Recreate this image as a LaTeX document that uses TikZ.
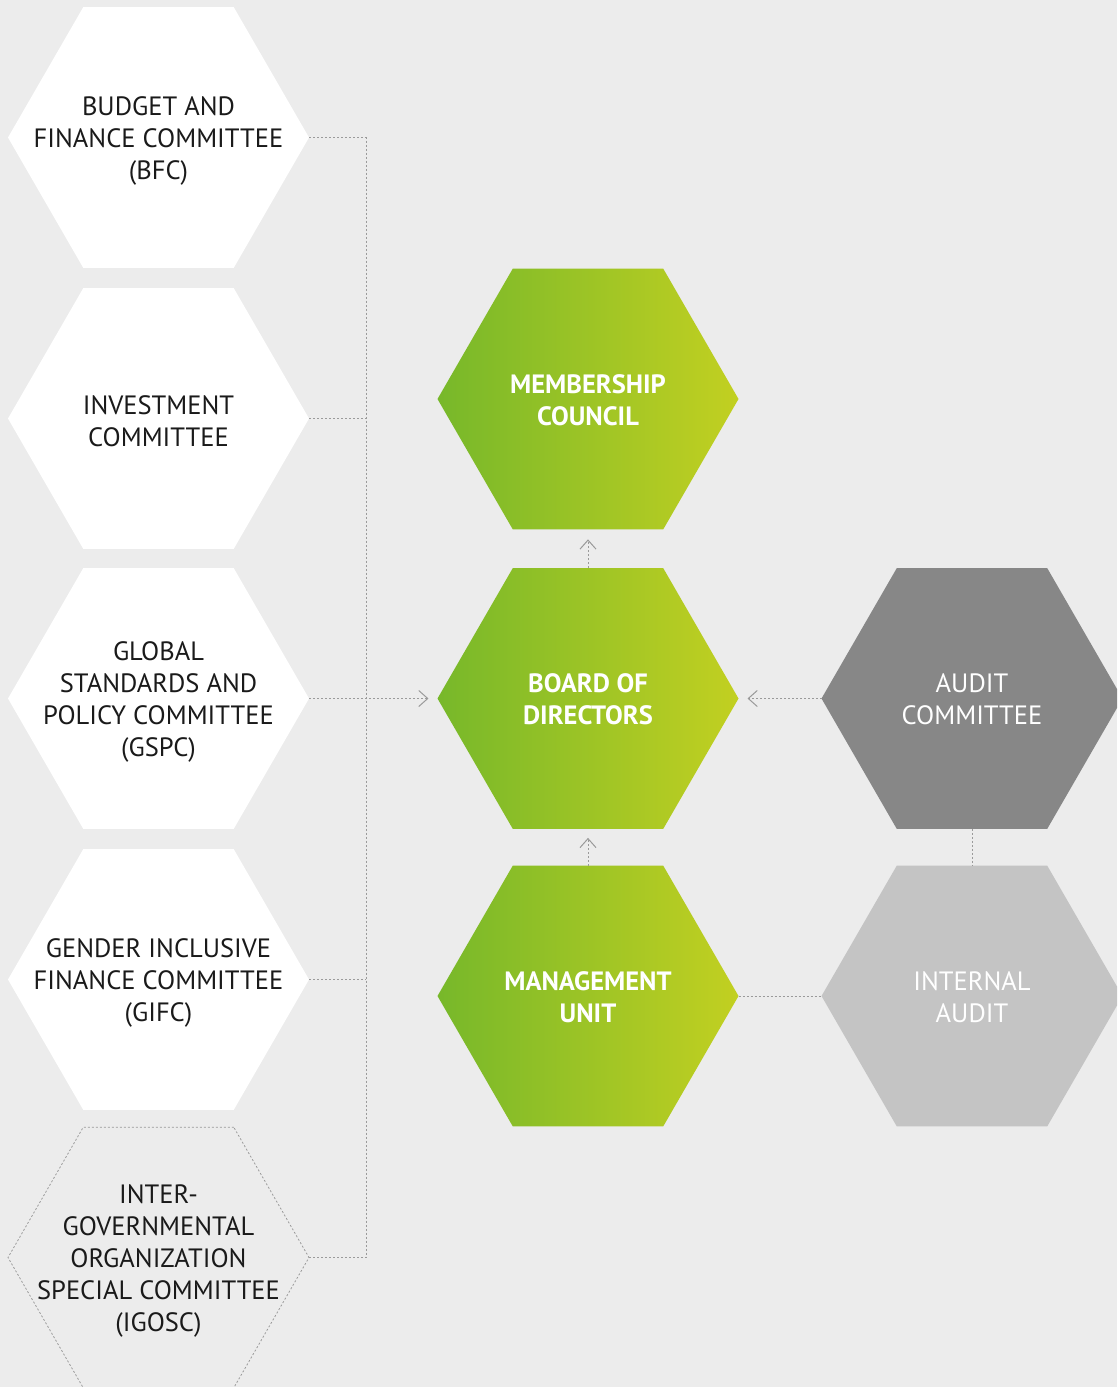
\documentclass[tikz,border=0pt]{standalone}
\usepackage{fontspec}
\setmainfont{PT Sans}
\usetikzlibrary{shapes.geometric,arrows.meta}
\definecolor{bg}{HTML}{ECECEC}
\definecolor{greenL}{HTML}{77B82A}
\definecolor{greenR}{HTML}{C2D021}
\definecolor{auditgray}{HTML}{878787}
\definecolor{internalgray}{HTML}{C4C4C4}
\definecolor{linegray}{HTML}{9A9A9A}
\definecolor{ink}{HTML}{1A1A1A}
\begin{document}
\begin{tikzpicture}[x=1pt,y=-1pt,
  hexa/.style={regular polygon, regular polygon sides=6, minimum size=301pt,
    inner sep=0pt, outer sep=0pt, draw=none},
  committee/.style={hexa, fill=white},
  igo/.style={hexa, draw=linegray, line width=0.8pt, dash pattern=on 2pt off 2pt},
  governing/.style={hexa, left color=greenL, right color=greenR},
  audithex/.style={hexa, fill=auditgray},
  internalhex/.style={hexa, fill=internalgray},
  label/.style={align=center, font=\fontsize{26.5}{32}\selectfont, text=ink, yshift=-3pt},
  boldlabel/.style={align=center, text=white, yshift=-1pt,
    font=\fontsize{26.5}{32}\selectfont\bfseries},
  whitelabel/.style={label, text=white, yshift=2pt},
  conn/.style={draw=linegray, line width=1pt, dash pattern=on 2pt off 2pt},
  arrowconn/.style={conn, -{Straight Barb[length=9pt,width=16pt,line width=1pt]}, shorten >=9pt},
]
\clip (0,0) rectangle (1117,1387);
\fill[bg] (0,0) rectangle (1117,1387);

% committees on the left
\node[committee] (bfc)   at (158.5,137.5) {};
\node[committee] (inv)   at (158.5,418.5) {};
\node[committee] (gspc)  at (158.5,698.5) {};
\node[committee] (gifc)  at (158.5,979.5) {};
\node[igo]       (igosc) at (158.5,1257.5) {};

\node[label] (bfc-t)   at (bfc)   {BUDGET AND\\FINANCE COMMITTEE\\(BFC)};
\node[label] (inv-t)   at (inv)   {INVESTMENT\\COMMITTEE};
\node[label] (gspc-t)  at (gspc)  {GLOBAL\\STANDARDS AND\\POLICY COMMITTEE\\(GSPC)};
\node[label] (gifc-t)  at (gifc)  {GENDER INCLUSIVE\\FINANCE COMMITTEE\\(GIFC)};
\node[label] (igosc-t) at (igosc) {INTER-\\GOVERNMENTAL\\ORGANIZATION\\SPECIAL COMMITTEE\\(IGOSC)};

% governing bodies
\node[governing] (council) at (588,399)   {};
\node[governing] (board)   at (588,698.5) {};
\node[governing] (mgmt)    at (588,996)   {};
\node[boldlabel] (council-t) at (council) {MEMBERSHIP\\COUNCIL};
\node[boldlabel] (board-t)   at (board)   {BOARD OF\\DIRECTORS};
\node[boldlabel] (mgmt-t)    at (mgmt)    {MANAGEMENT\\UNIT};

% audit
\node[audithex]    (audit)    at (972,698.5) {};
\node[internalhex] (internal) at (972,996)   {};
\node[whitelabel] (audit-t)    at (audit)    {AUDIT\\COMMITTEE};
\node[whitelabel] (internal-t) at (internal) {INTERNAL\\AUDIT};

% connectors
\coordinate (bus) at (366,0);
\draw[conn] (bfc.east) -- (bfc.east -| bus) -- (igosc.east -| bus) -- (igosc.east);
\draw[conn] (inv.east) -- (inv.east -| bus);
\draw[conn] (gifc.east) -- (gifc.east -| bus);
\draw[arrowconn] (gspc.east) -- (board.west);
\draw[arrowconn, shorten >=10pt] (board.north) -- (council.south);
\draw[arrowconn] (mgmt.north) -- (board.south);
\draw[arrowconn] (audit.west) -- (board.east);
\draw[conn] (audit.south) -- (internal.north);
\draw[conn] (mgmt.east) -- (internal.west);
\end{tikzpicture}
\end{document}
